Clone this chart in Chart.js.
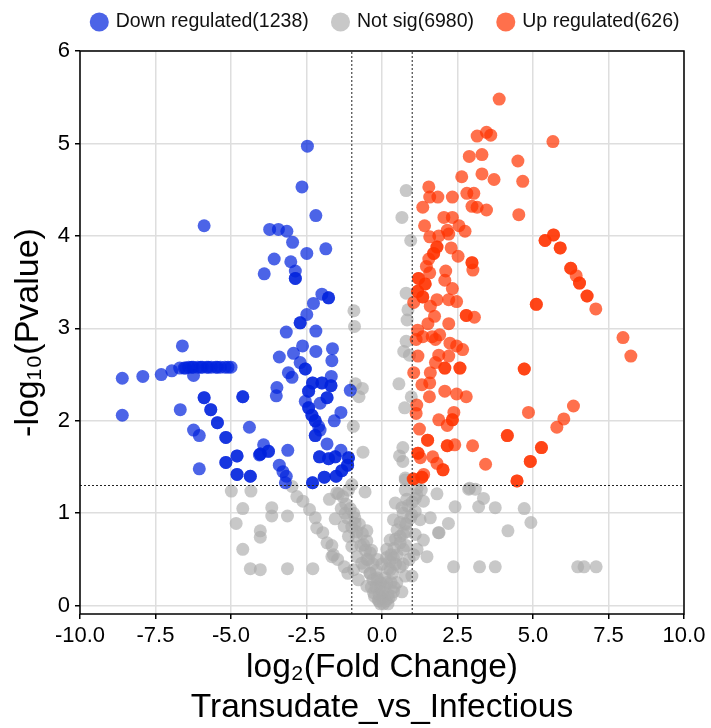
<!DOCTYPE html>
<html>
<head>
<meta charset="utf-8">
<script src="https://cdn.jsdelivr.net/npm/chart.js@4.4.1/dist/chart.umd.min.js"></script>
<style>
  html, body { margin: 0; padding: 0; background: #fff; }
  #volcano { display: block; }
</style>
</head>
<body>
<canvas id="volcano" width="711" height="728"></canvas>
<script>
// axis ticks and cut-offs
const xTicks = [-10, -7.5, -5, -2.5, 0, 2.5, 5, 7.5, 10]
const yTicks = [0, 1, 2, 3, 4, 5, 6]
const foldCutoffs = [-1, 1]
const pCutoff = 1.3
const seriesNames = ['Down regulated(1238)', 'Not sig(6980)', 'Up regulated(626)']

// [log2 fold change, -log10 p] (repeated pairs = stacked points)
const downRegulated = [
  [-8.6, 2.46], [-8.6, 2.06], [-7.92, 2.48], [-7.31, 2.50], [-6.96, 2.54], [-6.61, 2.81], [-6.68, 2.12],
  [-6.7, 2.57], [-6.55, 2.57], [-6.4, 2.58], [-6.25, 2.58], [-6.1, 2.58], [-5.95, 2.58], [-5.8, 2.58],
  [-5.65, 2.58], [-5.5, 2.58], [-5.35, 2.58], [-5.2, 2.58], [-5.0, 2.58],
  [-6.5, 2.57], [-6.3, 2.58], [-6.0, 2.58], [-5.75, 2.58], [-5.45, 2.58], [-5.1, 2.58],
  [-6.24, 2.49], [-5.89, 4.11], [-5.89, 2.25], [-5.89, 2.25], [-5.67, 2.12], [-5.67, 2.12],
  [-5.45, 1.98], [-5.45, 1.98], [-5.17, 1.82], [-5.17, 1.82], [-6.24, 1.90], [-6.05, 1.84], [-6.05, 1.48],
  [-5.17, 1.55], [-5.17, 1.55], [-4.80, 1.62], [-4.80, 1.62], [-4.80, 1.42], [-4.80, 1.42],
  [-4.36, 1.40], [-4.36, 1.40], [-4.61, 2.26], [-4.61, 2.26], [-4.39, 1.93], [-4.03, 1.64], [-4.03, 1.64],
  [-3.76, 1.67], [-3.76, 1.67], [-3.92, 1.74], [-3.90, 3.59], [-3.72, 4.07], [-3.43, 4.07], [-3.15, 4.05],
  [-3.57, 3.75], [-2.96, 3.93], [-3.02, 3.72], [-2.87, 3.62], [-2.87, 3.54], [-2.87, 3.54], [-2.49, 3.81],
  [-2.19, 4.22], [-1.86, 3.86], [-2.27, 3.27], [-1.99, 3.37], [-1.77, 3.33], [-1.77, 3.33], [-2.49, 3.15],
  [-2.71, 3.06], [-2.71, 3.06], [-3.17, 2.96], [-2.19, 2.97], [-2.63, 2.81], [-2.93, 2.73], [-3.40, 2.69],
  [-2.19, 2.75], [-1.64, 2.78], [-1.66, 2.65], [-2.71, 2.63], [-2.54, 2.56], [-2.54, 2.56], [-3.10, 2.52],
  [-2.98, 2.47], [-3.48, 2.36], [-3.50, 2.27], [-2.30, 2.41], [-2.30, 2.41], [-1.99, 2.41], [-1.99, 2.41],
  [-1.68, 2.48], [-1.69, 2.38], [-1.69, 2.38], [-2.43, 2.32], [-2.43, 2.32], [-1.82, 2.25], [-1.82, 2.25],
  [-2.05, 2.19], [-2.54, 2.21], [-2.43, 2.14], [-2.43, 2.14], [-2.32, 2.06], [-2.32, 2.06], [-2.21, 2.00],
  [-2.21, 2.00], [-2.10, 1.94], [-2.05, 1.90], [-2.21, 1.84], [-2.21, 1.84], [-1.36, 2.09], [-1.58, 2.00],
  [-1.05, 2.33], [-1.82, 1.75], [-3.12, 1.68], [-2.07, 1.61], [-2.07, 1.61], [-1.77, 1.59], [-1.77, 1.59],
  [-1.55, 1.61], [-1.55, 1.61], [-1.36, 1.68], [-1.11, 1.60], [-1.11, 1.60], [-1.14, 1.52], [-1.14, 1.52],
  [-1.33, 1.46], [-1.33, 1.46], [-1.52, 1.40], [-1.52, 1.40], [-1.91, 1.39], [-1.91, 1.39],
  [-2.30, 1.33], [-2.30, 1.33], [-3.40, 1.52], [-3.28, 1.45], [-3.17, 1.40], [-3.20, 1.33], [-4.06, 1.63],
  [-2.47, 4.97], [-2.65, 4.53]
]

const notSig = [
  [0.80, 4.49], [0.66, 4.20], [0.95, 3.95], [0.80, 3.38], [0.86, 3.20], [-0.93, 3.19], [-0.91, 3.02],
  [0.83, 3.09], [0.80, 2.86], [0.72, 2.75], [0.91, 2.71], [0.56, 2.40], [0.97, 2.26], [0.75, 2.14],
  [-0.88, 2.40], [-0.65, 2.35], [-0.76, 2.26], [-0.95, 1.94], [-0.63, 1.66], [0.69, 1.71], [0.58, 1.62],
  [0.69, 1.56], [0.77, 1.38], [-1.0, 1.31], [0.77, 1.36],
  [-4.99, 1.24], [-4.34, 1.24], [-4.61, 1.05], [-3.65, 1.06], [-3.65, 0.97], [-3.13, 0.97], [-4.83, 0.89],
  [-4.03, 0.81], [-4.03, 0.74], [-4.61, 0.61], [-4.36, 0.40], [-4.03, 0.39], [-3.13, 0.40], [-2.29, 0.40],
  [-2.98, 1.29], [-2.82, 1.18], [-2.62, 1.13], [-2.40, 1.04], [-2.21, 0.95], [-2.16, 0.84], [-1.96, 0.79],
  [-1.82, 0.68], [-1.66, 0.65], [-1.66, 0.53], [-1.47, 0.50], [-1.25, 0.42], [-1.13, 0.35], [-1.74, 1.15],
  [-1.44, 1.21], [-1.11, 1.25], [-0.56, 1.23], [-1.55, 0.94], [-1.22, 1.00], [-0.94, 1.00], [-1.25, 0.86],
  [-1.11, 0.75], [-0.83, 0.80], [-0.50, 0.81], [-1.00, 0.64], [-0.61, 0.66], [-0.39, 0.57], [-0.83, 0.53],
  [-0.67, 0.46], [-0.94, 0.39], [-0.78, 0.28], [-0.50, 0.21], [-0.28, 0.14], [-0.12, 0.06], [0.05, 0.02],
  [0.22, 0.08], [0.38, 0.15], [0.66, 0.15], [0.49, 0.25], [0.77, 0.32], [0.99, 0.32], [0.27, 0.39],
  [0.60, 0.42], [0.38, 0.52], [0.16, 0.61], [0.71, 0.61], [1.16, 0.61], [1.49, 0.53], [0.27, 0.71],
  [0.60, 0.75], [0.82, 0.80], [1.10, 0.77], [1.37, 0.71], [0.38, 0.93], [0.77, 0.89], [0.99, 0.98],
  [1.26, 0.93], [0.44, 1.11], [0.66, 1.06], [0.82, 1.15], [1.10, 1.16], [1.37, 1.13], [1.60, 0.95],
  [0.77, 1.25], [1.16, 1.27], [1.82, 1.21], [1.87, 0.79], [2.20, 0.89], [2.42, 1.07], [2.37, 0.42],
  [3.23, 0.42], [3.75, 0.42], [2.87, 1.26], [3.09, 1.26], [3.36, 1.16], [3.20, 1.07], [3.75, 1.06],
  [-1.61, 0.55], [-0.17, 0.28], [-0.39, 0.35], [-0.06, 0.19], [0.16, 0.25], [-0.50, 0.50], [-0.89, 0.89],
  [4.17, 0.81], [4.71, 1.05], [4.93, 0.90], [6.48, 0.42], [6.69, 0.42], [7.09, 0.42], [2.90, 1.27],
  [1.89, 0.79],
  [-1.5, 1.22], [-1.3, 1.18], [-1.2, 1.1], [-1.35, 1.05], [-1.05, 1.05], [-1.15, 0.95], [-0.9, 0.95],
  [-1.0, 0.85], [-0.75, 0.88], [-0.85, 0.75], [-0.65, 0.78], [-0.7, 0.65], [-0.5, 0.7], [-0.55, 0.6],
  [-0.35, 0.6], [-0.45, 0.5], [-0.6, 0.42], [-0.3, 0.45], [-0.4, 0.35], [-0.2, 0.38], [-0.3, 0.28],
  [-0.15, 0.3], [-0.2, 0.2], [-0.05, 0.25], [-0.1, 0.12], [0, 0.08], [-0.05, 0.02],
  [1.3, 1.25], [1.15, 1.2], [1.0, 1.12], [0.85, 1.08], [1.1, 1.02], [0.7, 1.0], [0.95, 0.95], [0.6, 0.9],
  [0.8, 0.88], [0.5, 0.82], [0.7, 0.78], [0.45, 0.72], [0.6, 0.68], [0.4, 0.62], [0.8, 0.65], [0.3, 0.55],
  [0.5, 0.55], [0.25, 0.48], [0.45, 0.45], [0.2, 0.4], [0.35, 0.35], [0.1, 0.3], [0.3, 0.25], [0.1, 0.2],
  [0.2, 0.12], [0.05, 0.1], [0.12, 0.05], [0.7, 0.45], [0.9, 0.5], [1.05, 0.55],
  [-0.35, 0.2], [0.4, 0.2], [-0.25, 0.1], [0.3, 0.1], [0.0, 0.15], [-0.1, 0.05], [0.2, 0.02],
  [-0.15, 0.5], [0.0, 0.45], [0.15, 0.52]
]

const upRegulated = [
  [3.88, 5.48], [3.15, 5.08], [3.46, 5.12], [3.60, 5.09], [5.66, 5.02], [2.89, 4.86], [3.31, 4.88],
  [4.50, 4.81], [2.64, 4.64], [3.31, 4.67], [3.71, 4.61], [4.66, 4.59], [1.55, 4.53], [1.58, 4.42],
  [1.85, 4.42], [2.33, 4.42], [2.81, 4.46], [3.04, 4.46], [1.35, 4.31], [2.98, 4.32], [3.15, 4.31],
  [3.46, 4.28], [4.53, 4.23], [2.05, 4.20], [2.33, 4.20], [1.41, 4.11], [2.55, 4.11], [2.16, 4.06],
  [2.75, 4.05], [1.58, 3.99], [1.88, 4.00], [2.21, 4.02], [5.68, 4.01], [5.68, 4.01], [5.40, 3.95],
  [5.40, 3.95], [1.82, 3.88], [1.82, 3.88], [2.29, 3.87], [5.90, 3.87], [5.90, 3.87], [1.71, 3.81],
  [1.71, 3.81], [2.52, 3.78], [1.55, 3.75], [2.98, 3.71], [2.98, 3.71], [3.01, 3.63], [1.47, 3.67],
  [2.11, 3.62], [1.58, 3.60], [6.25, 3.65], [6.25, 3.65], [6.43, 3.57], [6.54, 3.49], [6.54, 3.49],
  [6.79, 3.35], [6.79, 3.35], [7.08, 3.21], [5.11, 3.26], [5.11, 3.26], [1.21, 3.54], [1.21, 3.54],
  [2.08, 3.52], [1.43, 3.48], [1.43, 3.48], [1.18, 3.40], [1.18, 3.40], [2.33, 3.43], [1.35, 3.34],
  [1.35, 3.34], [1.82, 3.31], [2.21, 3.31], [2.47, 3.29], [1.05, 3.28], [1.60, 3.24], [1.74, 3.13],
  [2.79, 3.14], [2.79, 3.14], [3.06, 3.12], [2.21, 3.05], [1.52, 3.05], [1.18, 2.98], [1.13, 2.88],
  [1.35, 2.91], [1.66, 2.91], [1.91, 2.93], [1.77, 2.88], [2.25, 2.84], [2.47, 2.81], [2.67, 2.77],
  [1.19, 2.70], [1.88, 2.71], [2.21, 2.70], [1.77, 2.63], [2.08, 2.57], [2.08, 2.57], [2.58, 2.57],
  [2.58, 2.57], [4.71, 2.56], [4.71, 2.56], [1.05, 2.52], [1.60, 2.52], [7.98, 2.90], [8.24, 2.70],
  [1.32, 2.39], [1.58, 2.41], [2.08, 2.32], [2.47, 2.29], [2.79, 2.26], [1.57, 2.26], [1.15, 2.17],
  [1.13, 2.08], [2.38, 2.09], [1.88, 2.01], [2.33, 2.01], [2.33, 2.01], [2.16, 1.95], [1.24, 1.91],
  [4.85, 2.09], [6.34, 2.16], [6.02, 2.02], [5.79, 1.93], [4.15, 1.84], [4.15, 1.84], [1.51, 1.79],
  [1.51, 1.79], [2.16, 1.73], [2.16, 1.73], [2.41, 1.74], [3.00, 1.73], [5.28, 1.71], [5.28, 1.71],
  [1.19, 1.65], [1.19, 1.65], [1.27, 1.60], [1.68, 1.61], [1.82, 1.54], [2.02, 1.47], [2.02, 1.47],
  [3.43, 1.53], [4.91, 1.56], [4.91, 1.56], [1.32, 1.39], [1.32, 1.39], [1.03, 1.37], [4.47, 1.35],
  [4.47, 1.35], [1.05, 1.37], [1.38, 1.42]
]

const toXY = pairs => pairs.map(([x, y]) => ({x, y}))
const yMin = -0.09
const yMax = 6

const font = {family: "'Liberation Sans', Arial, sans-serif"}
const legendPad = 25
const legendSize = 19.5

const cutoffLine = data => ({
  type: 'line',
  label: '',
  data,
  borderColor: '#222',
  borderWidth: 1,
  borderDash: [2, 2],
  pointRadius: 0,
  showLine: true,
  fill: false,
  order: 1
})

// box round the plot area
const frame = {
  id: 'frame',
  afterDatasetsDraw(chart) {
    const {ctx, chartArea: a} = chart
    ctx.save()
    ctx.strokeStyle = '#000'
    ctx.lineWidth = 1.5
    ctx.strokeRect(a.left, a.top, a.right - a.left, a.bottom - a.top)
    ctx.restore()
  }
}

// legend sits right at the top, a bit right of centre
const legendSpot = {
  id: 'legendSpot',
  afterLayout(chart) {
    const lg = chart.legend
    const top = 22 - legendPad - legendSize / 2
    lg.top = top
    lg.height = 48 - top
    lg.bottom = 48
    lg.left += 44
    lg.right += 44
  }
}

new Chart(document.getElementById('volcano'), {
  type: 'scatter',
  data: {
    datasets: [
      cutoffLine([{x: foldCutoffs[0], y: yMin}, {x: foldCutoffs[0], y: yMax}]),
      cutoffLine([{x: foldCutoffs[1], y: yMin}, {x: foldCutoffs[1], y: yMax}]),
      cutoffLine([{x: xTicks[0], y: pCutoff}, {x: xTicks[xTicks.length - 1], y: pCutoff}]),
      {
        label: seriesNames[0],
        data: toXY(downRegulated),
        backgroundColor: 'rgba(0, 34, 221, 0.7)',
        borderWidth: 0,
        pointRadius: 6.5,
        order: 2
      },
      {
        label: seriesNames[1],
        data: toXY(notSig),
        backgroundColor: 'rgba(170, 170, 170, 0.65)',
        borderWidth: 0,
        pointRadius: 6.5,
        order: 3
      },
      {
        label: seriesNames[2],
        data: toXY(upRegulated),
        backgroundColor: 'rgba(255, 51, 0, 0.7)',
        borderWidth: 0,
        pointRadius: 6.5,
        order: 2
      }
    ]
  },
  options: {
    responsive: false,
    animation: false,
    layout: {padding: {left: 0, right: 27, top: 0, bottom: 0}},
    plugins: {
      tooltip: {enabled: false},
      legend: {
        position: 'top',
        maxHeight: 40,
        labels: {
          usePointStyle: true,
          pointStyle: 'circle',
          boxWidth: 13.5,
          boxHeight: 13.5,
          padding: legendPad,
          color: '#111',
          font: {...font, size: legendSize},
          filter: item => item.text !== '',
          sort: (a, b) => a.datasetIndex - b.datasetIndex
        }
      }
    },
    scales: {
      x: {
        type: 'linear',
        min: xTicks[0],
        max: xTicks[xTicks.length - 1],
        afterBuildTicks: s => { s.ticks = xTicks.map(value => ({value})) },
        afterFit: s => { s.height = 114 },
        border: {display: false},
        grid: {color: '#dedede', lineWidth: 1.5, tickLength: 5, tickColor: '#000', tickWidth: 1.5},
        ticks: {
          color: '#000',
          padding: 4,
          maxRotation: 0,
          font: {...font, size: 22},
          callback: v => v.toFixed(1)
        },
        title: {
          display: true,
          text: ['log\u2082(Fold Change)', 'Transudate_vs_Infectious'],
          color: '#000',
          font: {...font, size: 33.5},
          padding: {top: 0, bottom: 0}
        }
      },
      y: {
        type: 'linear',
        min: yMin,
        max: yMax,
        afterBuildTicks: s => { s.ticks = yTicks.map(value => ({value})) },
        afterFit: s => { s.width = 80; s.paddingTop = 51 },
        border: {display: false},
        grid: {color: '#dedede', lineWidth: 1.5, tickLength: 5, tickColor: '#000', tickWidth: 1.5},
        ticks: {
          color: '#000',
          padding: 5,
          font: {...font, size: 22},
          callback: v => String(v)
        },
        title: {
          display: true,
          text: '-log\u2081\u2080(Pvalue)',
          color: '#000',
          font: {...font, size: 34},
          padding: {top: 8, bottom: 0}
        }
      }
    }
  },
  plugins: [frame, legendSpot]
})
</script>
</body>
</html>
